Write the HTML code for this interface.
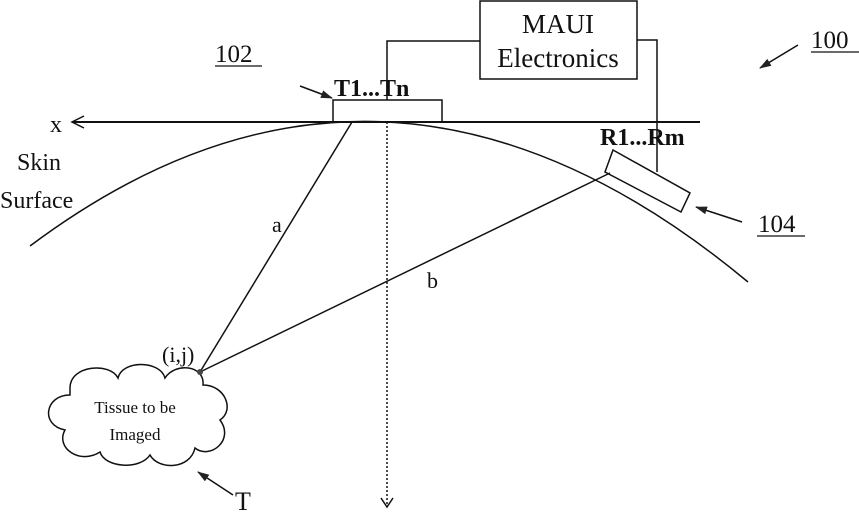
<!DOCTYPE html>
<html><head><meta charset="utf-8"><style>body{margin:0;background:#fff}svg{display:block}text{font-family:"Liberation Serif",serif;fill:#111}</style></head><body>
<svg width="859" height="526" viewBox="0 0 859 526" xmlns="http://www.w3.org/2000/svg">
<defs>
<marker id="ah" markerWidth="12" markerHeight="8" refX="11" refY="4" orient="auto" markerUnits="userSpaceOnUse"><path d="M0,0 L12,4 L0,8 Z" fill="#222"/></marker>
</defs>
<g stroke="#111" fill="none" stroke-width="1.5">
<rect x="480" y="1" width="157" height="78"/>
<polyline points="480,41 387,41 387,100"/>
<polyline points="637,40 657,40 657,172"/>
<rect x="333" y="100" width="109" height="22"/>
<line x1="72" y1="122" x2="700" y2="122" stroke-width="2"/>
<polyline points="84,116 72,122 84,128"/>
<path d="M30,246 Q385,-20 748,282"/>
<polygon points="613,150 690,193 681,212 605,172" fill="#fff"/>
<line x1="387" y1="122" x2="387" y2="506" stroke-dasharray="2,2"/>
<polyline points="381,498 387,507 393,498"/>
<line x1="352" y1="122" x2="200" y2="372"/>
<line x1="610" y1="173" x2="200" y2="372"/>
<path d="M70,388 C70,365 110,362 118,378 C122,360 160,360 165,378 C175,362 205,365 203,385 C225,385 235,410 220,420 C235,440 210,460 195,448 C190,470 158,470 150,455 C140,470 105,468 100,452 C80,465 55,448 65,430 C40,425 45,395 70,395 Z"/>
<line x1="233" y1="495" x2="198" y2="472" marker-end="url(#ah)"/>
<line x1="300" y1="86" x2="332" y2="98" marker-end="url(#ah)"/>
<line x1="798" y1="45" x2="760" y2="68" marker-end="url(#ah)"/>
<line x1="742" y1="222" x2="696" y2="207" marker-end="url(#ah)"/>
<line x1="215" y1="66" x2="262" y2="66" stroke-width="1.2"/>
<line x1="811" y1="52" x2="859" y2="52" stroke-width="1.2"/>
<line x1="757" y1="236" x2="805" y2="236" stroke-width="1.2"/>
</g>
<circle cx="200" cy="372" r="3" fill="#444"/>
<text x="558" y="33" font-size="27" text-anchor="middle">MAUI</text>
<text x="558" y="67" font-size="27" text-anchor="middle">Electronics</text>
<text x="334" y="96" font-size="24" font-weight="bold">T1...Tn</text>
<text x="600" y="145" font-size="24" font-weight="bold">R1...Rm</text>
<text x="215" y="62" font-size="25">102</text>
<text x="811" y="48" font-size="25">100</text>
<text x="758" y="232" font-size="25">104</text>
<text x="50" y="132" font-size="24">x</text>
<text x="17" y="170" font-size="24">Skin</text>
<text x="0" y="208" font-size="24">Surface</text>
<text x="272" y="232" font-size="22">a</text>
<text x="427" y="288" font-size="22">b</text>
<text x="162" y="362" font-size="22">(i,j)</text>
<text x="135" y="413" font-size="17" text-anchor="middle">Tissue to be</text>
<text x="135" y="440" font-size="17" text-anchor="middle">Imaged</text>
<text x="235" y="510" font-size="26">T</text>
<text x="378" y="538" font-size="22">y</text>
</svg>
</body></html>
